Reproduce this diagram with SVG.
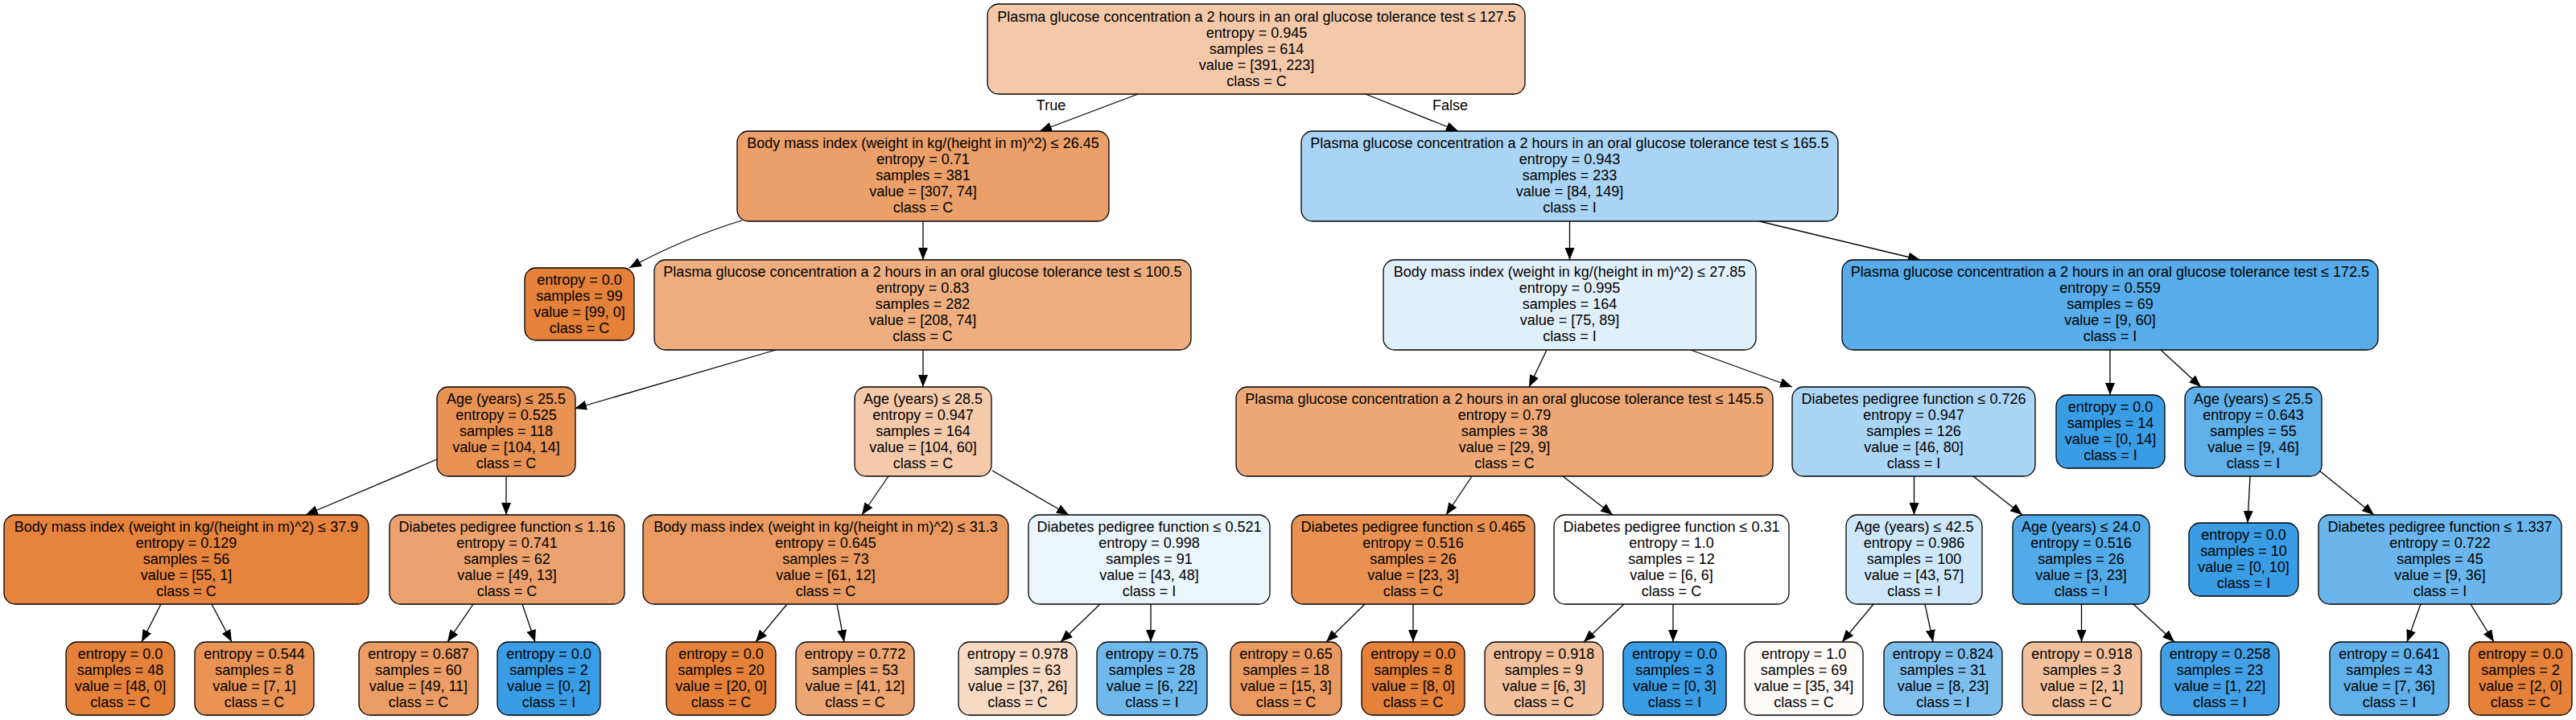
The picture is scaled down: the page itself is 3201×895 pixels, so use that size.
<svg xmlns="http://www.w3.org/2000/svg" width="3201" height="895" viewBox="0 0 3201 895">
<style>
.bg{fill:#ffffff}
.nd rect{stroke:#000000;stroke-width:1.3}
text{font-family:"Liberation Sans",Helvetica,Arial,sans-serif;font-size:18px;fill:#000000;text-anchor:middle}
.edges path{fill:none;stroke:#000000;stroke-width:1.3;marker-end:url(#ah)}
</style>
<defs>
<marker id="ah" markerUnits="userSpaceOnUse" markerWidth="15" markerHeight="12" refX="15" refY="6" orient="auto">
<path d="M0,0 L15,6 L0,12 z" fill="#000000"/>
</marker>
</defs>
<rect class="bg" x="0" y="0" width="3201" height="895"/>
<g id="connectors" class="edges">
<path d="M1414,117 L1292,163"/>
<path d="M1697,117 L1812,163"/>
<path d="M922,274 Q850,296 782,333"/>
<path d="M1147,275 L1147,323"/>
<path d="M964,435 L714,508"/>
<path d="M1147,435 L1147,481"/>
<path d="M543,571 L380,640"/>
<path d="M629,592 L629,640"/>
<path d="M200,751 L176,798"/>
<path d="M263,751 L288,798"/>
<path d="M588,751 L556,798"/>
<path d="M649,751 L665,798"/>
<path d="M1104,592 L1071,640"/>
<path d="M1233,585 L1328,640"/>
<path d="M978,751 L939,798"/>
<path d="M1040,751 L1049,798"/>
<path d="M1367,751 L1318,798"/>
<path d="M1430,751 L1430,798"/>
<path d="M1950.5,275 L1950.5,323"/>
<path d="M2186,275 L2386,323"/>
<path d="M1922,435 L1900,481"/>
<path d="M2101,435 L2227,481"/>
<path d="M1829,592 L1797,640"/>
<path d="M1942,592 L2004,640"/>
<path d="M1696,751 L1648,798"/>
<path d="M1756,751 L1756,798"/>
<path d="M2018,751 L1968,798"/>
<path d="M2079,751 L2079,798"/>
<path d="M2378.5,592 L2378.5,640"/>
<path d="M2452,592 L2513,640"/>
<path d="M2328,751 L2289,798"/>
<path d="M2392,751 L2402,798"/>
<path d="M2586.5,751 L2586.5,798"/>
<path d="M2651,751 L2702,798"/>
<path d="M2622,435 L2622,491"/>
<path d="M2685,435 L2735,481"/>
<path d="M2796,592 L2793,650"/>
<path d="M2882,585 L2950,640"/>
<path d="M3008,751 L2991,798"/>
<path d="M3070,751 L3099,798"/>
</g>
<g id="edge-labels">
<text x="1306" y="137">True</text>
<text x="1802" y="137">False</text>
</g>
<g id="n0" class="nd"><rect x="1227" y="5" width="668" height="112" rx="14" fill="#f4c9aa"/>
<text y="26.5"><tspan x="1561.5">Plasma glucose concentration a 2 hours in an oral glucose tolerance test ≤ 127.5</tspan><tspan x="1561.5" dy="20">entropy = 0.945</tspan><tspan x="1561.5" dy="20">samples = 614</tspan><tspan x="1561.5" dy="20">value = [391, 223]</tspan><tspan x="1561.5" dy="20">class = C</tspan></text></g>
<g id="n1" class="nd"><rect x="916" y="163" width="462" height="112" rx="14" fill="#eb9f69"/>
<text y="184"><tspan x="1147">Body mass index (weight in kg/(height in m)^2) ≤ 26.45</tspan><tspan x="1147" dy="20">entropy = 0.71</tspan><tspan x="1147" dy="20">samples = 381</tspan><tspan x="1147" dy="20">value = [307, 74]</tspan><tspan x="1147" dy="20">class = C</tspan></text></g>
<g id="n2" class="nd"><rect x="652" y="333" width="136" height="90" rx="14" fill="#e58139"/>
<text y="353.5"><tspan x="720">entropy = 0.0</tspan><tspan x="720" dy="20">samples = 99</tspan><tspan x="720" dy="20">value = [99, 0]</tspan><tspan x="720" dy="20">class = C</tspan></text></g>
<g id="n3" class="nd"><rect x="813" y="323" width="667" height="112" rx="14" fill="#eeae7f"/>
<text y="344"><tspan x="1146.5">Plasma glucose concentration a 2 hours in an oral glucose tolerance test ≤ 100.5</tspan><tspan x="1146.5" dy="20">entropy = 0.83</tspan><tspan x="1146.5" dy="20">samples = 282</tspan><tspan x="1146.5" dy="20">value = [208, 74]</tspan><tspan x="1146.5" dy="20">class = C</tspan></text></g>
<g id="n4" class="nd"><rect x="543" y="481" width="172" height="111" rx="14" fill="#e89254"/>
<text y="501.5"><tspan x="629">Age (years) ≤ 25.5</tspan><tspan x="629" dy="20">entropy = 0.525</tspan><tspan x="629" dy="20">samples = 118</tspan><tspan x="629" dy="20">value = [104, 14]</tspan><tspan x="629" dy="20">class = C</tspan></text></g>
<g id="n5" class="nd"><rect x="5" y="640" width="453" height="111" rx="14" fill="#e6833d"/>
<text y="660.5"><tspan x="231.5">Body mass index (weight in kg/(height in m)^2) ≤ 37.9</tspan><tspan x="231.5" dy="20">entropy = 0.129</tspan><tspan x="231.5" dy="20">samples = 56</tspan><tspan x="231.5" dy="20">value = [55, 1]</tspan><tspan x="231.5" dy="20">class = C</tspan></text></g>
<g id="n6" class="nd"><rect x="82" y="798" width="135" height="91" rx="14" fill="#e58139"/>
<text y="818.5"><tspan x="149.5">entropy = 0.0</tspan><tspan x="149.5" dy="20">samples = 48</tspan><tspan x="149.5" dy="20">value = [48, 0]</tspan><tspan x="149.5" dy="20">class = C</tspan></text></g>
<g id="n7" class="nd"><rect x="242" y="798" width="148" height="91" rx="14" fill="#e99355"/>
<text y="818.5"><tspan x="316">entropy = 0.544</tspan><tspan x="316" dy="20">samples = 8</tspan><tspan x="316" dy="20">value = [7, 1]</tspan><tspan x="316" dy="20">class = C</tspan></text></g>
<g id="n8" class="nd"><rect x="484" y="640" width="292" height="111" rx="14" fill="#eca26e"/>
<text y="660.5"><tspan x="630">Diabetes pedigree function ≤ 1.16</tspan><tspan x="630" dy="20">entropy = 0.741</tspan><tspan x="630" dy="20">samples = 62</tspan><tspan x="630" dy="20">value = [49, 13]</tspan><tspan x="630" dy="20">class = C</tspan></text></g>
<g id="n9" class="nd"><rect x="446" y="798" width="148" height="91" rx="14" fill="#eb9d65"/>
<text y="818.5"><tspan x="520">entropy = 0.687</tspan><tspan x="520" dy="20">samples = 60</tspan><tspan x="520" dy="20">value = [49, 11]</tspan><tspan x="520" dy="20">class = C</tspan></text></g>
<g id="n10" class="nd"><rect x="618" y="798" width="128" height="91" rx="14" fill="#399de5"/>
<text y="818.5"><tspan x="682">entropy = 0.0</tspan><tspan x="682" dy="20">samples = 2</tspan><tspan x="682" dy="20">value = [0, 2]</tspan><tspan x="682" dy="20">class = I</tspan></text></g>
<g id="n11" class="nd"><rect x="1062" y="481" width="170" height="111" rx="14" fill="#f4caab"/>
<text y="501.5"><tspan x="1147">Age (years) ≤ 28.5</tspan><tspan x="1147" dy="20">entropy = 0.947</tspan><tspan x="1147" dy="20">samples = 164</tspan><tspan x="1147" dy="20">value = [104, 60]</tspan><tspan x="1147" dy="20">class = C</tspan></text></g>
<g id="n12" class="nd"><rect x="799" y="640" width="454" height="111" rx="14" fill="#ea9a60"/>
<text y="660.5"><tspan x="1026">Body mass index (weight in kg/(height in m)^2) ≤ 31.3</tspan><tspan x="1026" dy="20">entropy = 0.645</tspan><tspan x="1026" dy="20">samples = 73</tspan><tspan x="1026" dy="20">value = [61, 12]</tspan><tspan x="1026" dy="20">class = C</tspan></text></g>
<g id="n13" class="nd"><rect x="828" y="798" width="136" height="91" rx="14" fill="#e58139"/>
<text y="818.5"><tspan x="896">entropy = 0.0</tspan><tspan x="896" dy="20">samples = 20</tspan><tspan x="896" dy="20">value = [20, 0]</tspan><tspan x="896" dy="20">class = C</tspan></text></g>
<g id="n14" class="nd"><rect x="989" y="798" width="147" height="91" rx="14" fill="#eda673"/>
<text y="818.5"><tspan x="1062.5">entropy = 0.772</tspan><tspan x="1062.5" dy="20">samples = 53</tspan><tspan x="1062.5" dy="20">value = [41, 12]</tspan><tspan x="1062.5" dy="20">class = C</tspan></text></g>
<g id="n15" class="nd"><rect x="1278" y="640" width="300" height="111" rx="14" fill="#eaf5fc"/>
<text y="660.5"><tspan x="1428">Diabetes pedigree function ≤ 0.521</tspan><tspan x="1428" dy="20">entropy = 0.998</tspan><tspan x="1428" dy="20">samples = 91</tspan><tspan x="1428" dy="20">value = [43, 48]</tspan><tspan x="1428" dy="20">class = I</tspan></text></g>
<g id="n16" class="nd"><rect x="1191" y="798" width="147" height="91" rx="14" fill="#f7dac4"/>
<text y="818.5"><tspan x="1264.5">entropy = 0.978</tspan><tspan x="1264.5" dy="20">samples = 63</tspan><tspan x="1264.5" dy="20">value = [37, 26]</tspan><tspan x="1264.5" dy="20">class = C</tspan></text></g>
<g id="n17" class="nd"><rect x="1363" y="798" width="137" height="91" rx="14" fill="#6fb8ec"/>
<text y="818.5"><tspan x="1431.5">entropy = 0.75</tspan><tspan x="1431.5" dy="20">samples = 28</tspan><tspan x="1431.5" dy="20">value = [6, 22]</tspan><tspan x="1431.5" dy="20">class = I</tspan></text></g>
<g id="n18" class="nd"><rect x="1617" y="163" width="667" height="112" rx="14" fill="#a9d4f4"/>
<text y="184"><tspan x="1950.5">Plasma glucose concentration a 2 hours in an oral glucose tolerance test ≤ 165.5</tspan><tspan x="1950.5" dy="20">entropy = 0.943</tspan><tspan x="1950.5" dy="20">samples = 233</tspan><tspan x="1950.5" dy="20">value = [84, 149]</tspan><tspan x="1950.5" dy="20">class = I</tspan></text></g>
<g id="n19" class="nd"><rect x="1719" y="323" width="463" height="112" rx="14" fill="#e0f0fb"/>
<text y="344"><tspan x="1950.5">Body mass index (weight in kg/(height in m)^2) ≤ 27.85</tspan><tspan x="1950.5" dy="20">entropy = 0.995</tspan><tspan x="1950.5" dy="20">samples = 164</tspan><tspan x="1950.5" dy="20">value = [75, 89]</tspan><tspan x="1950.5" dy="20">class = I</tspan></text></g>
<g id="n20" class="nd"><rect x="1536" y="481" width="667" height="111" rx="14" fill="#eda876"/>
<text y="501.5"><tspan x="1869.5">Plasma glucose concentration a 2 hours in an oral glucose tolerance test ≤ 145.5</tspan><tspan x="1869.5" dy="20">entropy = 0.79</tspan><tspan x="1869.5" dy="20">samples = 38</tspan><tspan x="1869.5" dy="20">value = [29, 9]</tspan><tspan x="1869.5" dy="20">class = C</tspan></text></g>
<g id="n21" class="nd"><rect x="1605" y="640" width="302" height="111" rx="14" fill="#e89153"/>
<text y="660.5"><tspan x="1756">Diabetes pedigree function ≤ 0.465</tspan><tspan x="1756" dy="20">entropy = 0.516</tspan><tspan x="1756" dy="20">samples = 26</tspan><tspan x="1756" dy="20">value = [23, 3]</tspan><tspan x="1756" dy="20">class = C</tspan></text></g>
<g id="n22" class="nd"><rect x="1529" y="798" width="138" height="91" rx="14" fill="#ea9a61"/>
<text y="818.5"><tspan x="1598">entropy = 0.65</tspan><tspan x="1598" dy="20">samples = 18</tspan><tspan x="1598" dy="20">value = [15, 3]</tspan><tspan x="1598" dy="20">class = C</tspan></text></g>
<g id="n23" class="nd"><rect x="1692" y="798" width="128" height="91" rx="14" fill="#e58139"/>
<text y="818.5"><tspan x="1756">entropy = 0.0</tspan><tspan x="1756" dy="20">samples = 8</tspan><tspan x="1756" dy="20">value = [8, 0]</tspan><tspan x="1756" dy="20">class = C</tspan></text></g>
<g id="n24" class="nd"><rect x="1931" y="640" width="292" height="111" rx="14" fill="#ffffff"/>
<text y="660.5"><tspan x="2077">Diabetes pedigree function ≤ 0.31</tspan><tspan x="2077" dy="20">entropy = 1.0</tspan><tspan x="2077" dy="20">samples = 12</tspan><tspan x="2077" dy="20">value = [6, 6]</tspan><tspan x="2077" dy="20">class = C</tspan></text></g>
<g id="n25" class="nd"><rect x="1845" y="798" width="147" height="91" rx="14" fill="#f2c09c"/>
<text y="818.5"><tspan x="1918.5">entropy = 0.918</tspan><tspan x="1918.5" dy="20">samples = 9</tspan><tspan x="1918.5" dy="20">value = [6, 3]</tspan><tspan x="1918.5" dy="20">class = C</tspan></text></g>
<g id="n26" class="nd"><rect x="2017" y="798" width="128" height="91" rx="14" fill="#399de5"/>
<text y="818.5"><tspan x="2081">entropy = 0.0</tspan><tspan x="2081" dy="20">samples = 3</tspan><tspan x="2081" dy="20">value = [0, 3]</tspan><tspan x="2081" dy="20">class = I</tspan></text></g>
<g id="n27" class="nd"><rect x="2227" y="481" width="302" height="111" rx="14" fill="#abd5f4"/>
<text y="501.5"><tspan x="2378">Diabetes pedigree function ≤ 0.726</tspan><tspan x="2378" dy="20">entropy = 0.947</tspan><tspan x="2378" dy="20">samples = 126</tspan><tspan x="2378" dy="20">value = [46, 80]</tspan><tspan x="2378" dy="20">class = I</tspan></text></g>
<g id="n28" class="nd"><rect x="2294" y="640" width="169" height="111" rx="14" fill="#cee7f9"/>
<text y="660.5"><tspan x="2378.5">Age (years) ≤ 42.5</tspan><tspan x="2378.5" dy="20">entropy = 0.986</tspan><tspan x="2378.5" dy="20">samples = 100</tspan><tspan x="2378.5" dy="20">value = [43, 57]</tspan><tspan x="2378.5" dy="20">class = I</tspan></text></g>
<g id="n29" class="nd"><rect x="2168" y="798" width="147" height="91" rx="14" fill="#fefbf9"/>
<text y="818.5"><tspan x="2241.5">entropy = 1.0</tspan><tspan x="2241.5" dy="20">samples = 69</tspan><tspan x="2241.5" dy="20">value = [35, 34]</tspan><tspan x="2241.5" dy="20">class = C</tspan></text></g>
<g id="n30" class="nd"><rect x="2341" y="798" width="147" height="91" rx="14" fill="#7ebfee"/>
<text y="818.5"><tspan x="2414.5">entropy = 0.824</tspan><tspan x="2414.5" dy="20">samples = 31</tspan><tspan x="2414.5" dy="20">value = [8, 23]</tspan><tspan x="2414.5" dy="20">class = I</tspan></text></g>
<g id="n31" class="nd"><rect x="2501" y="640" width="170" height="111" rx="14" fill="#53aae8"/>
<text y="660.5"><tspan x="2586">Age (years) ≤ 24.0</tspan><tspan x="2586" dy="20">entropy = 0.516</tspan><tspan x="2586" dy="20">samples = 26</tspan><tspan x="2586" dy="20">value = [3, 23]</tspan><tspan x="2586" dy="20">class = I</tspan></text></g>
<g id="n32" class="nd"><rect x="2513" y="798" width="148" height="91" rx="14" fill="#f2c09c"/>
<text y="818.5"><tspan x="2587">entropy = 0.918</tspan><tspan x="2587" dy="20">samples = 3</tspan><tspan x="2587" dy="20">value = [2, 1]</tspan><tspan x="2587" dy="20">class = C</tspan></text></g>
<g id="n33" class="nd"><rect x="2685" y="798" width="147" height="91" rx="14" fill="#42a1e6"/>
<text y="818.5"><tspan x="2758.5">entropy = 0.258</tspan><tspan x="2758.5" dy="20">samples = 23</tspan><tspan x="2758.5" dy="20">value = [1, 22]</tspan><tspan x="2758.5" dy="20">class = I</tspan></text></g>
<g id="n34" class="nd"><rect x="2289" y="323" width="666" height="112" rx="14" fill="#57ace9"/>
<text y="344"><tspan x="2622">Plasma glucose concentration a 2 hours in an oral glucose tolerance test ≤ 172.5</tspan><tspan x="2622" dy="20">entropy = 0.559</tspan><tspan x="2622" dy="20">samples = 69</tspan><tspan x="2622" dy="20">value = [9, 60]</tspan><tspan x="2622" dy="20">class = I</tspan></text></g>
<g id="n35" class="nd"><rect x="2555" y="491" width="135" height="91" rx="14" fill="#399de5"/>
<text y="511.5"><tspan x="2622.5">entropy = 0.0</tspan><tspan x="2622.5" dy="20">samples = 14</tspan><tspan x="2622.5" dy="20">value = [0, 14]</tspan><tspan x="2622.5" dy="20">class = I</tspan></text></g>
<g id="n36" class="nd"><rect x="2715" y="481" width="170" height="111" rx="14" fill="#60b0ea"/>
<text y="501.5"><tspan x="2800">Age (years) ≤ 25.5</tspan><tspan x="2800" dy="20">entropy = 0.643</tspan><tspan x="2800" dy="20">samples = 55</tspan><tspan x="2800" dy="20">value = [9, 46]</tspan><tspan x="2800" dy="20">class = I</tspan></text></g>
<g id="n37" class="nd"><rect x="2720" y="650" width="136" height="91" rx="14" fill="#399de5"/>
<text y="670.5"><tspan x="2788">entropy = 0.0</tspan><tspan x="2788" dy="20">samples = 10</tspan><tspan x="2788" dy="20">value = [0, 10]</tspan><tspan x="2788" dy="20">class = I</tspan></text></g>
<g id="n38" class="nd"><rect x="2881" y="640" width="302" height="111" rx="14" fill="#6ab6ec"/>
<text y="660.5"><tspan x="3032">Diabetes pedigree function ≤ 1.337</tspan><tspan x="3032" dy="20">entropy = 0.722</tspan><tspan x="3032" dy="20">samples = 45</tspan><tspan x="3032" dy="20">value = [9, 36]</tspan><tspan x="3032" dy="20">class = I</tspan></text></g>
<g id="n39" class="nd"><rect x="2895" y="798" width="148" height="91" rx="14" fill="#60b0ea"/>
<text y="818.5"><tspan x="2969">entropy = 0.641</tspan><tspan x="2969" dy="20">samples = 43</tspan><tspan x="2969" dy="20">value = [7, 36]</tspan><tspan x="2969" dy="20">class = I</tspan></text></g>
<g id="n40" class="nd"><rect x="3068" y="798" width="128" height="91" rx="14" fill="#e58139"/>
<text y="818.5"><tspan x="3132">entropy = 0.0</tspan><tspan x="3132" dy="20">samples = 2</tspan><tspan x="3132" dy="20">value = [2, 0]</tspan><tspan x="3132" dy="20">class = C</tspan></text></g>
</svg>
